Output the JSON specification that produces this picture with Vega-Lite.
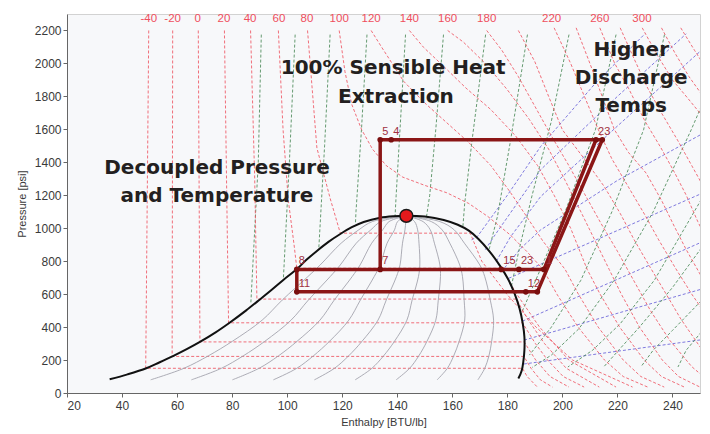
{
"$schema":"https://vega.github.io/schema/vega-lite/v6.json",
"width":633,"height":379,
"autosize":{"type":"none"},
"padding":{"left":67,"top":14,"right":10,"bottom":41},
"background":"#ffffff",
"config":{
 "view":{"fill":"#f7f8fa","stroke":"#d2d2d2"},
 "axis":{"labelFont":"Liberation Sans","titleFont":"Liberation Sans","labelColor":"#3a3a3a","titleColor":"#3a3a3a","domainColor":"#666666","tickColor":"#666666","grid":false,"titleFontWeight":"normal","labelFontSize":12,"titleFontSize":11,"tickSize":4}
},
"datasets":{
"iso":[
{"s":"a","i":0,"h":49.7,"p":2200},{"s":"a","i":1,"h":48.6,"p":150},{"s":"a","i":2,"h":185.5,"p":150},{"s":"a","i":3,"h":187.2,"p":100},{"s":"a","i":4,"h":190.9,"p":36},
{"s":"b","i":0,"h":58.4,"p":2200},{"s":"b","i":1,"h":58.2,"p":222},{"s":"b","i":2,"h":186,"p":222},{"s":"b","i":3,"h":188.6,"p":150},{"s":"b","i":4,"h":192,"p":80},{"s":"b","i":5,"h":196.4,"p":36},
{"s":"c","i":0,"h":67.7,"p":2200},{"s":"c","i":1,"h":68.3,"p":310},{"s":"c","i":2,"h":186.1,"p":310},{"s":"c","i":3,"h":190.3,"p":200},{"s":"c","i":4,"h":195.5,"p":100},{"s":"c","i":5,"h":202.4,"p":36},
{"s":"d","i":0,"h":77.2,"p":2200},{"s":"d","i":1,"h":78.7,"p":426},{"s":"d","i":2,"h":185.5,"p":426},{"s":"d","i":3,"h":190.2,"p":300},{"s":"d","i":4,"h":194.6,"p":200},{"s":"d","i":5,"h":200.3,"p":100},{"s":"d","i":6,"h":207.9,"p":36},
{"s":"e","i":0,"h":86.7,"p":2200},{"s":"e","i":1,"h":88.2,"p":1300},{"s":"e","i":2,"h":89,"p":570},{"s":"e","i":3,"h":183.3,"p":570},{"s":"e","i":4,"h":187.3,"p":450},{"s":"e","i":5,"h":193.5,"p":300},{"s":"e","i":6,"h":201.4,"p":150},{"s":"e","i":7,"h":213.4,"p":36},
{"s":"f","i":0,"h":96.8,"p":2200},{"s":"f","i":1,"h":98.5,"p":1600},{"s":"f","i":2,"h":100.4,"p":1171},{"s":"f","i":3,"h":102.5,"p":900},{"s":"f","i":4,"h":103.5,"p":757},{"s":"f","i":5,"h":177.9,"p":757},{"s":"f","i":6,"h":183.4,"p":600},{"s":"f","i":7,"h":191.7,"p":400},{"s":"f","i":8,"h":202.3,"p":200},{"s":"f","i":9,"h":219.5,"p":36},
{"s":"g","i":0,"h":107.4,"p":2200},{"s":"g","i":1,"h":110.8,"p":1487},{"s":"g","i":2,"h":115.6,"p":1182},{"s":"g","i":3,"h":119.3,"p":970},{"s":"g","i":4,"h":166.5,"p":970},{"s":"g","i":5,"h":170.7,"p":800},{"s":"g","i":6,"h":179.8,"p":600},{"s":"g","i":7,"h":190.4,"p":400},{"s":"g","i":8,"h":203.7,"p":200},{"s":"g","i":9,"h":225.5,"p":36},
{"s":"h","i":0,"h":118.9,"p":2200},{"s":"h","i":1,"h":121,"p":1950},{"s":"h","i":2,"h":123.5,"p":1750},{"s":"h","i":3,"h":127,"p":1600},{"s":"h","i":4,"h":131,"p":1480},{"s":"h","i":5,"h":136,"p":1380},{"s":"h","i":6,"h":142,"p":1310},{"s":"h","i":7,"h":150,"p":1260},{"s":"h","i":8,"h":158,"p":1215},{"s":"h","i":9,"h":166,"p":1150},{"s":"h","i":10,"h":173,"p":1070},{"s":"h","i":11,"h":181,"p":960},{"s":"h","i":12,"h":187,"p":860},{"s":"h","i":13,"h":193,"p":750},{"s":"h","i":14,"h":198,"p":600},{"s":"h","i":15,"h":205.7,"p":400},{"s":"h","i":16,"h":215.3,"p":200},{"s":"h","i":17,"h":222.1,"p":100},{"s":"h","i":18,"h":231,"p":36},
{"s":"j","i":0,"h":130.5,"p":2200},{"s":"j","i":1,"h":134.5,"p":2094},{"s":"j","i":2,"h":142.3,"p":1892},{"s":"j","i":3,"h":150,"p":1760},{"s":"j","i":4,"h":158,"p":1640},{"s":"j","i":5,"h":166,"p":1520},{"s":"j","i":6,"h":174,"p":1380},{"s":"j","i":7,"h":181,"p":1220},{"s":"j","i":8,"h":187,"p":1071},{"s":"j","i":9,"h":193,"p":920},{"s":"j","i":10,"h":201,"p":750},{"s":"j","i":11,"h":205.8,"p":600},{"s":"j","i":12,"h":213,"p":400},{"s":"j","i":13,"h":222.1,"p":200},{"s":"j","i":14,"h":228.5,"p":100},{"s":"j","i":15,"h":237,"p":36},
{"s":"k","i":0,"h":144.4,"p":2200},{"s":"k","i":1,"h":149.6,"p":2097},{"s":"k","i":2,"h":157,"p":1980},{"s":"k","i":3,"h":165,"p":1850},{"s":"k","i":4,"h":174,"p":1720},{"s":"k","i":5,"h":183,"p":1560},{"s":"k","i":6,"h":191,"p":1380},{"s":"k","i":7,"h":197,"p":1200},{"s":"k","i":8,"h":203,"p":1000},{"s":"k","i":9,"h":209,"p":750},{"s":"k","i":10,"h":213.7,"p":600},{"s":"k","i":11,"h":220.8,"p":400},{"s":"k","i":12,"h":229.7,"p":200},{"s":"k","i":13,"h":236,"p":100},{"s":"k","i":14,"h":244.3,"p":36},
{"s":"l","i":0,"h":158.3,"p":2200},{"s":"l","i":1,"h":164,"p":2130},{"s":"l","i":2,"h":172,"p":2000},{"s":"l","i":3,"h":180,"p":1840},{"s":"l","i":4,"h":188,"p":1660},{"s":"l","i":5,"h":195,"p":1480},{"s":"l","i":6,"h":201,"p":1290},{"s":"l","i":7,"h":207,"p":1090},{"s":"l","i":8,"h":212,"p":920},{"s":"l","i":9,"h":217,"p":750},{"s":"l","i":10,"h":221.4,"p":600},{"s":"l","i":11,"h":228,"p":400},{"s":"l","i":12,"h":236.3,"p":200},{"s":"l","i":13,"h":242.2,"p":100},{"s":"l","i":14,"h":250,"p":36},
{"s":"m","i":0,"h":172.5,"p":2200},{"s":"m","i":1,"h":178,"p":2080},{"s":"m","i":2,"h":184,"p":1920},{"s":"m","i":3,"h":190,"p":1740},{"s":"m","i":4,"h":196,"p":1560},{"s":"m","i":5,"h":202,"p":1390},{"s":"m","i":6,"h":208,"p":1210},{"s":"m","i":7,"h":214,"p":1030},{"s":"m","i":8,"h":220,"p":860},{"s":"m","i":9,"h":226,"p":680},{"s":"m","i":10,"h":232,"p":500},{"s":"m","i":11,"h":239,"p":320},{"s":"m","i":12,"h":247,"p":160},{"s":"m","i":13,"h":254,"p":60},
{"s":"n","i":0,"h":184,"p":2200},{"s":"n","i":1,"h":190,"p":2010},{"s":"n","i":2,"h":195,"p":1800},{"s":"n","i":3,"h":200,"p":1597},{"s":"n","i":4,"h":208,"p":1420},{"s":"n","i":5,"h":215.2,"p":1253},{"s":"n","i":6,"h":221,"p":1090},{"s":"n","i":7,"h":226.1,"p":929},{"s":"n","i":8,"h":232,"p":760},{"s":"n","i":9,"h":237,"p":620},{"s":"n","i":10,"h":243,"p":450},{"s":"n","i":11,"h":250,"p":280},{"s":"n","i":12,"h":256,"p":150},
{"s":"o","i":0,"h":197,"p":2216},{"s":"o","i":1,"h":203,"p":2000},{"s":"o","i":2,"h":208,"p":1800},{"s":"o","i":3,"h":213,"p":1600},{"s":"o","i":4,"h":218,"p":1420},{"s":"o","i":5,"h":224,"p":1250},{"s":"o","i":6,"h":230,"p":1080},{"s":"o","i":7,"h":235,"p":929},{"s":"o","i":8,"h":241,"p":760},{"s":"o","i":9,"h":247,"p":600},{"s":"o","i":10,"h":254,"p":430},
{"s":"q","i":0,"h":205,"p":2216},{"s":"q","i":1,"h":210,"p":2000},{"s":"q","i":2,"h":214,"p":1820},{"s":"q","i":3,"h":218.9,"p":1598},{"s":"q","i":4,"h":224,"p":1460},{"s":"q","i":5,"h":230.4,"p":1335},{"s":"q","i":6,"h":236,"p":1170},{"s":"q","i":7,"h":240.7,"p":1010},{"s":"q","i":8,"h":245,"p":870},{"s":"q","i":9,"h":249.2,"p":746},{"s":"q","i":10,"h":254,"p":600},
{"s":"r","i":0,"h":213.6,"p":2216},{"s":"r","i":1,"h":219,"p":2000},{"s":"r","i":2,"h":224,"p":1850},{"s":"r","i":3,"h":230,"p":1650},{"s":"r","i":4,"h":235.8,"p":1488},{"s":"r","i":5,"h":241,"p":1330},{"s":"r","i":6,"h":245,"p":1200},{"s":"r","i":7,"h":249.2,"p":1040},{"s":"r","i":8,"h":254,"p":880},
{"s":"t","i":0,"h":221,"p":2216},{"s":"t","i":1,"h":226,"p":2030},{"s":"t","i":2,"h":231,"p":1850},{"s":"t","i":3,"h":236,"p":1700},{"s":"t","i":4,"h":242,"p":1530},{"s":"t","i":5,"h":247,"p":1380},{"s":"t","i":6,"h":252,"p":1230},{"s":"t","i":7,"h":255,"p":1150},
{"s":"u","i":0,"h":229,"p":2216},{"s":"u","i":1,"h":234.5,"p":2050},{"s":"u","i":2,"h":240,"p":1900},{"s":"u","i":3,"h":245.5,"p":1790},{"s":"u","i":4,"h":250.4,"p":1690},{"s":"u","i":5,"h":254,"p":1620},
{"s":"v","i":0,"h":236,"p":2216},{"s":"v","i":1,"h":241,"p":2060},{"s":"v","i":2,"h":246,"p":1920},{"s":"v","i":3,"h":252,"p":1780},{"s":"v","i":4,"h":255,"p":1720},
{"s":"w","i":0,"h":243,"p":2216},{"s":"w","i":1,"h":248,"p":2080},{"s":"w","i":2,"h":253,"p":1950}
],
"ent":[
{"s":"1","i":0,"h":90.6,"p":2175},{"s":"1","i":1,"h":89.5,"p":1400},{"s":"1","i":2,"h":86.8,"p":545},
{"s":"2","i":0,"h":102.9,"p":2175},{"s":"2","i":1,"h":100.8,"p":1400},{"s":"2","i":2,"h":98.6,"p":686},
{"s":"3","i":0,"h":115.6,"p":2175},{"s":"3","i":1,"h":113.6,"p":1500},{"s":"3","i":2,"h":111.5,"p":880},
{"s":"4","i":0,"h":129,"p":2175},{"s":"4","i":1,"h":127,"p":1600},{"s":"4","i":2,"h":125,"p":1100},{"s":"4","i":3,"h":124.8,"p":1025},
{"s":"5","i":0,"h":143,"p":2175},{"s":"5","i":1,"h":141,"p":1600},{"s":"5","i":2,"h":139.6,"p":1200},{"s":"5","i":3,"h":139.2,"p":1073},
{"s":"6","i":0,"h":156.8,"p":2175},{"s":"6","i":1,"h":154,"p":1600},{"s":"6","i":2,"h":151.8,"p":1200},{"s":"6","i":3,"h":150.6,"p":1068},
{"s":"7","i":0,"h":172.1,"p":2175},{"s":"7","i":1,"h":167.2,"p":1536},{"s":"7","i":2,"h":164.5,"p":1150},{"s":"7","i":3,"h":163.8,"p":1000},
{"s":"8","i":0,"h":187.3,"p":2175},{"s":"8","i":1,"h":181.2,"p":1536},{"s":"8","i":2,"h":176.4,"p":1071},{"s":"8","i":3,"h":173.2,"p":860},
{"s":"9","i":0,"h":202.4,"p":2175},{"s":"9","i":1,"h":196,"p":1650},{"s":"9","i":2,"h":189,"p":1200},{"s":"9","i":3,"h":184,"p":850},{"s":"9","i":4,"h":181.5,"p":650},
{"s":"10","i":0,"h":219.5,"p":2175},{"s":"10","i":1,"h":212,"p":1597},{"s":"10","i":2,"h":201,"p":1100},{"s":"10","i":3,"h":192,"p":750},{"s":"10","i":4,"h":185,"p":480},
{"s":"11","i":0,"h":237.1,"p":2175},{"s":"11","i":1,"h":229.5,"p":1597},{"s":"11","i":2,"h":218,"p":1100},{"s":"11","i":3,"h":206.7,"p":684},{"s":"11","i":4,"h":196,"p":400},{"s":"11","i":5,"h":188,"p":230},
{"s":"12","i":0,"h":250.5,"p":1740},{"s":"12","i":1,"h":246.8,"p":1597},{"s":"12","i":2,"h":233,"p":1100},{"s":"12","i":3,"h":218.8,"p":684},{"s":"12","i":4,"h":206,"p":390},{"s":"12","i":5,"h":196,"p":230},{"s":"12","i":6,"h":189,"p":155},
{"s":"13","i":0,"h":250.5,"p":1175},{"s":"13","i":1,"h":233.4,"p":684},{"s":"13","i":2,"h":221,"p":420},{"s":"13","i":3,"h":211,"p":260},{"s":"13","i":4,"h":202,"p":158},
{"s":"14","i":0,"h":250.5,"p":880},{"s":"14","i":1,"h":240,"p":640},{"s":"14","i":2,"h":228,"p":400},{"s":"14","i":3,"h":221,"p":270},{"s":"14","i":4,"h":215,"p":158},
{"s":"15","i":0,"h":250.5,"p":560},{"s":"15","i":1,"h":240,"p":380},{"s":"15","i":2,"h":233,"p":260},{"s":"15","i":3,"h":228.5,"p":158},
{"s":"16","i":0,"h":250.5,"p":370},{"s":"16","i":1,"h":245,"p":260},{"s":"16","i":2,"h":242,"p":158}
],
"vol":[
{"s":"1","i":0,"h":167,"p":930},{"s":"1","i":1,"h":169.1,"p":949},{"s":"1","i":2,"h":180,"p":1200},{"s":"1","i":3,"h":192.1,"p":1496},{"s":"1","i":4,"h":212,"p":1880},{"s":"1","i":5,"h":230,"p":2180},
{"s":"2","i":0,"h":172,"p":870},{"s":"2","i":1,"h":175.1,"p":949},{"s":"2","i":2,"h":192.1,"p":1355},{"s":"2","i":3,"h":220,"p":1800},{"s":"2","i":4,"h":245,"p":2180},
{"s":"3","i":0,"h":176,"p":800},{"s":"3","i":1,"h":181.2,"p":949},{"s":"3","i":2,"h":192.1,"p":1192},{"s":"3","i":3,"h":220,"p":1620},{"s":"3","i":4,"h":250.5,"p":2080},
{"s":"4","i":0,"h":179,"p":760},{"s":"4","i":1,"h":185,"p":880},{"s":"4","i":2,"h":192.1,"p":990},{"s":"4","i":3,"h":220,"p":1290},{"s":"4","i":4,"h":250.5,"p":1570},
{"s":"5","i":0,"h":180.5,"p":696},{"s":"5","i":1,"h":187.3,"p":746},{"s":"5","i":2,"h":237,"p":1111},{"s":"5","i":3,"h":250.5,"p":1210},
{"s":"6","i":0,"h":185.5,"p":436},{"s":"6","i":1,"h":194.6,"p":503},{"s":"6","i":2,"h":220,"p":690},{"s":"6","i":3,"h":250.5,"p":915},
{"s":"7","i":0,"h":186.1,"p":321},{"s":"7","i":1,"h":250.5,"p":630},
{"s":"8","i":0,"h":186,"p":176},{"s":"8","i":1,"h":250.5,"p":323}
],
"qual":[
{"s":"1","i":0,"h":50.4,"p":80},{"s":"1","i":1,"h":62.5,"p":150},{"s":"1","i":2,"h":71.3,"p":225},{"s":"1","i":3,"h":80.1,"p":314},{"s":"1","i":4,"h":90.9,"p":442},{"s":"1","i":5,"h":98.2,"p":564},{"s":"1","i":6,"h":107.5,"p":706},{"s":"1","i":7,"h":112,"p":777},{"s":"1","i":8,"h":119.6,"p":909},{"s":"1","i":9,"h":126,"p":990},{"s":"1","i":10,"h":130.9,"p":1040},{"s":"1","i":11,"h":143.3,"p":1075},
{"s":"2","i":0,"h":65.2,"p":80},{"s":"2","i":1,"h":76.1,"p":150},{"s":"2","i":2,"h":84,"p":225},{"s":"2","i":3,"h":91.9,"p":314},{"s":"2","i":4,"h":101.4,"p":442},{"s":"2","i":5,"h":107.7,"p":564},{"s":"2","i":6,"h":115.6,"p":706},{"s":"2","i":7,"h":119.3,"p":777},{"s":"2","i":8,"h":125.1,"p":909},{"s":"2","i":9,"h":130.4,"p":990},{"s":"2","i":10,"h":134,"p":1040},{"s":"2","i":11,"h":143.3,"p":1075},
{"s":"3","i":0,"h":80.1,"p":80},{"s":"3","i":1,"h":89.8,"p":150},{"s":"3","i":2,"h":96.8,"p":225},{"s":"3","i":3,"h":103.6,"p":314},{"s":"3","i":4,"h":111.9,"p":442},{"s":"3","i":5,"h":117.1,"p":564},{"s":"3","i":6,"h":123.6,"p":706},{"s":"3","i":7,"h":126.5,"p":777},{"s":"3","i":8,"h":130.7,"p":909},{"s":"3","i":9,"h":134.7,"p":990},{"s":"3","i":10,"h":137,"p":1040},{"s":"3","i":11,"h":143.3,"p":1075},
{"s":"4","i":0,"h":95,"p":80},{"s":"4","i":1,"h":103.5,"p":150},{"s":"4","i":2,"h":109.5,"p":225},{"s":"4","i":3,"h":115.4,"p":314},{"s":"4","i":4,"h":122.4,"p":442},{"s":"4","i":5,"h":126.6,"p":564},{"s":"4","i":6,"h":131.6,"p":706},{"s":"4","i":7,"h":133.8,"p":777},{"s":"4","i":8,"h":136.3,"p":909},{"s":"4","i":9,"h":139,"p":990},{"s":"4","i":10,"h":140.1,"p":1040},{"s":"4","i":11,"h":143.3,"p":1075},
{"s":"5","i":0,"h":109.9,"p":80},{"s":"5","i":1,"h":117.2,"p":150},{"s":"5","i":2,"h":122.3,"p":225},{"s":"5","i":3,"h":127.2,"p":314},{"s":"5","i":4,"h":133,"p":442},{"s":"5","i":5,"h":136,"p":564},{"s":"5","i":6,"h":139.7,"p":706},{"s":"5","i":7,"h":141,"p":777},{"s":"5","i":8,"h":141.9,"p":909},{"s":"5","i":9,"h":142.8,"p":990},{"s":"5","i":10,"h":143.1,"p":1040},{"s":"5","i":11,"h":143.3,"p":1075},
{"s":"6","i":0,"h":124.7,"p":80},{"s":"6","i":1,"h":130.8,"p":150},{"s":"6","i":2,"h":135,"p":225},{"s":"6","i":3,"h":139,"p":314},{"s":"6","i":4,"h":143.5,"p":442},{"s":"6","i":5,"h":145.4,"p":564},{"s":"6","i":6,"h":147.7,"p":706},{"s":"6","i":7,"h":148.2,"p":777},{"s":"6","i":8,"h":147.9,"p":909},{"s":"6","i":9,"h":147.4,"p":990},{"s":"6","i":10,"h":146.3,"p":1040},{"s":"6","i":11,"h":143.3,"p":1075},
{"s":"7","i":0,"h":139.6,"p":80},{"s":"7","i":1,"h":144.5,"p":150},{"s":"7","i":2,"h":147.8,"p":225},{"s":"7","i":3,"h":150.8,"p":314},{"s":"7","i":4,"h":154,"p":442},{"s":"7","i":5,"h":154.9,"p":564},{"s":"7","i":6,"h":155.7,"p":706},{"s":"7","i":7,"h":155.5,"p":777},{"s":"7","i":8,"h":153.5,"p":909},{"s":"7","i":9,"h":152,"p":990},{"s":"7","i":10,"h":149.4,"p":1040},{"s":"7","i":11,"h":143.3,"p":1075},
{"s":"8","i":0,"h":154.5,"p":80},{"s":"8","i":1,"h":158.2,"p":150},{"s":"8","i":2,"h":160.5,"p":225},{"s":"8","i":3,"h":162.5,"p":314},{"s":"8","i":4,"h":164.5,"p":442},{"s":"8","i":5,"h":164.3,"p":564},{"s":"8","i":6,"h":163.7,"p":706},{"s":"8","i":7,"h":162.7,"p":777},{"s":"8","i":8,"h":159.1,"p":909},{"s":"8","i":9,"h":156.3,"p":990},{"s":"8","i":10,"h":152.4,"p":1040},{"s":"8","i":11,"h":143.3,"p":1075},
{"s":"9","i":0,"h":169.3,"p":80},{"s":"9","i":1,"h":171.8,"p":150},{"s":"9","i":2,"h":173.3,"p":225},{"s":"9","i":3,"h":174.3,"p":314},{"s":"9","i":4,"h":175,"p":442},{"s":"9","i":5,"h":173.8,"p":564},{"s":"9","i":6,"h":171.8,"p":706},{"s":"9","i":7,"h":170,"p":777},{"s":"9","i":8,"h":164.4,"p":909},{"s":"9","i":9,"h":160.7,"p":990},{"s":"9","i":10,"h":155.5,"p":1040},{"s":"9","i":11,"h":143.3,"p":1075}
],
"dome":[
{"i":0,"h":35.5,"p":83},{"i":1,"h":42,"p":113},{"i":2,"h":48.8,"p":150},{"i":3,"h":53.5,"p":185},{"i":4,"h":58.5,"p":224},{"i":5,"h":63.5,"p":266},{"i":6,"h":68.3,"p":310},{"i":7,"h":74,"p":368},{"i":8,"h":79.2,"p":428},{"i":9,"h":85,"p":500},{"i":10,"h":90.1,"p":568},{"i":11,"h":94.5,"p":628},{"i":12,"h":98.6,"p":686},{"i":13,"h":103.5,"p":752},{"i":14,"h":107,"p":808},{"i":15,"h":110.8,"p":862},{"i":16,"h":115,"p":917},{"i":17,"h":119.3,"p":965},{"i":18,"h":123.5,"p":1006},{"i":19,"h":127.8,"p":1038},{"i":20,"h":133.8,"p":1064},{"i":21,"h":138.5,"p":1073},{"i":22,"h":143.3,"p":1076},
{"i":23,"h":150,"p":1071},{"i":24,"h":156.9,"p":1050},{"i":25,"h":162,"p":1021},{"i":26,"h":166,"p":985},{"i":27,"h":169.5,"p":935},{"i":28,"h":173.5,"p":860},{"i":29,"h":177.4,"p":770},{"i":30,"h":180.3,"p":690},{"i":31,"h":182.6,"p":605},{"i":32,"h":184.4,"p":515},{"i":33,"h":185.6,"p":422},{"i":34,"h":186.2,"p":340},{"i":35,"h":186.2,"p":260},{"i":36,"h":185.8,"p":190},{"i":37,"h":185.2,"p":135},{"i":38,"h":184,"p":88}
],
"cyc":[
{"s":"A","i":0,"h":133.8,"p":1537},{"s":"A","i":1,"h":214.5,"p":1537},
{"s":"B","i":0,"h":133.8,"p":1537},{"s":"B","i":1,"h":133.8,"p":750},
{"s":"C","i":0,"h":103.5,"p":750},{"s":"C","i":1,"h":193.3,"p":750},
{"s":"D","i":0,"h":103.5,"p":750},{"s":"D","i":1,"h":103.5,"p":614},
{"s":"E","i":0,"h":103.5,"p":614},{"s":"E","i":1,"h":190.9,"p":614},
{"s":"F","i":0,"h":193.3,"p":750},{"s":"F","i":1,"h":212.2,"p":1537},
{"s":"G","i":0,"h":190.9,"p":614},{"s":"G","i":1,"h":214.5,"p":1537}
],
"pts":[
{"t":"5","h":133.8,"p":1537},{"t":"4","h":137.8,"p":1537},{"t":"2","h":212.2,"p":1537},{"t":"3","h":214.5,"p":1537},
{"t":"7","h":133.8,"p":750},{"t":"8","h":103.5,"p":750},{"t":"15","h":177.8,"p":750},{"t":"23","h":184.2,"p":750},{"t":"1","h":193.3,"p":750},
{"t":"11","h":103.5,"p":614},{"t":"12","h":186.7,"p":614},{"t":"","h":190.9,"p":614}
],
"crit":[{"h":143.3,"p":1075}],
"toplbl":[
{"t":"-40","h":49.7,"p":2268},{"t":"-20","h":58.4,"p":2268},{"t":"0","h":67.5,"p":2268},{"t":"20","h":77,"p":2268},{"t":"40","h":86.5,"p":2268},{"t":"60","h":97,"p":2268},{"t":"80","h":107.2,"p":2268},{"t":"100","h":118.9,"p":2268},{"t":"120","h":130.5,"p":2268},{"t":"140","h":144.4,"p":2268},{"t":"160","h":158.3,"p":2268},{"t":"180","h":172.5,"p":2268},{"t":"220","h":196.1,"p":2268},{"t":"260","h":213.6,"p":2268},{"t":"300","h":228.9,"p":2268}
],
"ann":[
{"t":"100% Sensible Heat","h":138.5,"p":1975},{"t":"Extraction","h":139.5,"p":1799},
{"t":"Decoupled Pressure","h":74.5,"p":1366},{"t":"and Temperature","h":74.5,"p":1196},
{"t":"Higher","h":225,"p":2083},{"t":"Discharge","h":225,"p":1914},{"t":"Temps","h":225,"p":1744}
]
},
"encoding":{
 "x":{"field":"h","type":"quantitative","scale":{"domain":[20,250],"nice":false,"zero":false},
  "axis":{"title":"Enthalpy [BTU/lb]","values":[20,40,60,80,100,120,140,160,180,200,220,240],"labelPadding":3,"titlePadding":5}},
 "y":{"field":"p","type":"quantitative","scale":{"domain":[0,2300],"nice":false,"zero":false},
  "axis":{"title":"Pressure [psi]","format":"d","values":[0,200,400,600,800,1000,1200,1400,1600,1800,2000,2200],"labelPadding":2,"titlePadding":7}}
},
"layer":[
 {"data":{"name":"vol"},"mark":{"type":"line","clip":true,"color":"#6a63d8","strokeWidth":1,"strokeDash":[3,2],"opacity":0.85},
  "encoding":{"detail":{"field":"s"},"order":{"field":"i","type":"quantitative"}}},
 {"data":{"name":"ent"},"mark":{"type":"line","clip":true,"color":"#4b8a58","strokeWidth":1,"strokeDash":[3,2],"opacity":0.85},
  "encoding":{"detail":{"field":"s"},"order":{"field":"i","type":"quantitative"}}},
 {"data":{"name":"iso"},"mark":{"type":"line","clip":true,"color":"#ee5663","strokeWidth":1,"strokeDash":[3,2],"opacity":0.85},
  "encoding":{"detail":{"field":"s"},"order":{"field":"i","type":"quantitative"}}},
 {"data":{"name":"qual"},"mark":{"type":"line","clip":true,"interpolate":"catmull-rom","color":"#a4a4ae","strokeWidth":1,"opacity":0.9},
  "encoding":{"detail":{"field":"s"},"order":{"field":"i","type":"quantitative"}}},
 {"data":{"name":"dome"},"mark":{"type":"line","clip":true,"interpolate":"catmull-rom","color":"#111111","strokeWidth":2},
  "encoding":{"order":{"field":"i","type":"quantitative"}}},
 {"data":{"name":"cyc"},"mark":{"type":"line","clip":true,"color":"#8b1616","strokeWidth":3.5,"strokeCap":"round"},
  "encoding":{"detail":{"field":"s"},"order":{"field":"i","type":"quantitative"}}},
 {"data":{"name":"pts"},"mark":{"type":"point","filled":true,"color":"#7a0f0f","size":32,"opacity":1}},
 {"data":{"name":"pts"},"mark":{"type":"text","align":"left","baseline":"alphabetic","dx":2,"dy":-5,"font":"Liberation Sans","fontSize":11,"color":"#a0303f"},
  "encoding":{"text":{"field":"t"}}},
 {"data":{"name":"crit"},"mark":{"type":"point","filled":true,"color":"#e3191c","stroke":"#1a1a1a","strokeWidth":1.5,"size":165,"opacity":1}},
 {"data":{"name":"toplbl"},"mark":{"type":"text","align":"center","baseline":"middle","font":"Liberation Sans","fontSize":11.5,"color":"#ef4f5d"},
  "encoding":{"text":{"field":"t"}}},
 {"data":{"name":"ann"},"mark":{"type":"text","align":"center","baseline":"middle","font":"DejaVu Sans","fontWeight":"bold","fontSize":20,"color":"#231f20"},
  "encoding":{"text":{"field":"t"}}}
]
}
